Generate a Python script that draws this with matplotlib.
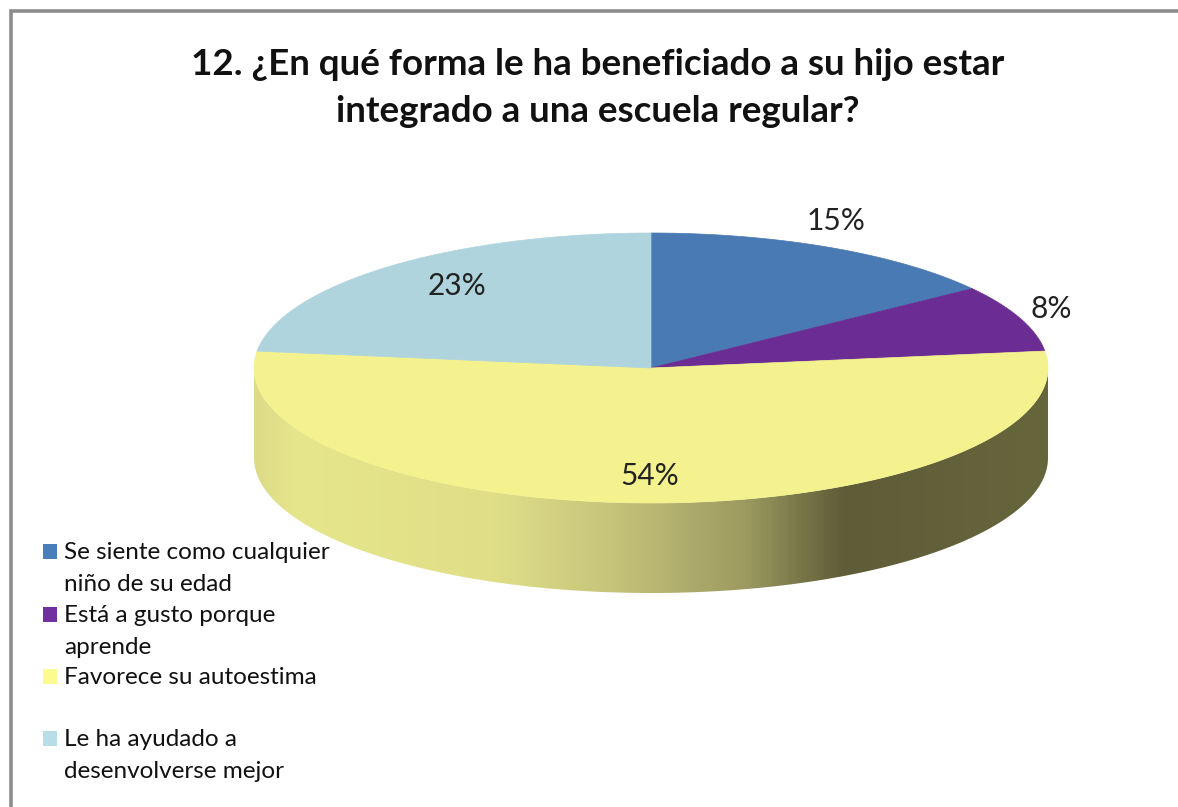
import numpy as np
import matplotlib
matplotlib.use("Agg")
import matplotlib.pyplot as plt
from matplotlib.colors import LinearSegmentedColormap
from matplotlib.patches import Polygon, Rectangle

title = "12. ¿En qué forma le ha beneficiado a su hijo estar\nintegrado a una escuela regular?"
categories = ["Se siente como cualquier\nniño de su edad", "Está a gusto porque\naprende",
              "Favorece su autoestima", "Le ha ayudado a\ndesenvolverse mejor"]
values = [15, 8, 54, 23]
value_labels = ["15%", "8%", "54%", "23%"]

top_colors = ["#4A7AB3", "#6B2C93", "#F3F28E", "#AFD4DD"]
legend_colors = ["#4A7EBB", "#7030A0", "#FBFB8F", "#B7DDE8"]

plt.rcParams["font.family"] = ["Lato", "DejaVu Sans"]

fig = plt.figure(figsize=(11.78, 8.07), dpi=100)
ax = fig.add_axes([0, 0, 1, 1])
ax.set_xlim(0, 1178)
ax.set_ylim(807, 0)
ax.axis("off")

# chart frame, only top and left show up in the crop
ax.plot([11, 11, 1178], [807, 11, 11], color="#8C8C8C", lw=2.6, solid_joinstyle="miter")

cx, cy, rx, ry, depth = 651, 368, 397, 135, 90


def rim(start, stop):
    t = np.radians(np.linspace(start, stop, 200))
    return cx + rx * np.sin(t), cy - ry * np.cos(t)


# side wall with the gradient
x_top, y_top = rim(90, 270)
side = Polygon(np.r_[np.c_[x_top, y_top], np.c_[x_top[::-1], y_top[::-1] + depth]],
               closed=True, fc="none", ec="none")
ax.add_patch(side)
cmap = LinearSegmentedColormap.from_list("side", [
    (0.00, "#DDDB88"), (0.05, "#E6E68C"), (0.30, "#E0DF88"), (0.45, "#C6C47A"),
    (0.62, "#9C9A60"), (0.71, "#6F6C42"), (0.745, "#5F5C38"), (1.00, "#66663C")])
img = ax.imshow(np.linspace(0, 1, 400).reshape(1, -1), cmap=cmap, aspect="auto",
                extent=[cx - rx, cx + rx, 600, 360], zorder=1)
img.set_clip_path(side)
ax.set_xlim(0, 1178)
ax.set_ylim(807, 0)

# top face, wedges go clockwise from 12 o'clock
start = 0
total = sum(values)
for val, col in zip(values, top_colors):
    stop = start + val / total * 360
    xs, ys = rim(start, stop)
    ax.add_patch(Polygon(np.c_[np.r_[cx, xs], np.r_[cy, ys]], closed=True,
                         fc=col, ec=col, lw=0.5, zorder=2))
    start = stop

ax.text(598, 88, title, ha="center", va="center", fontsize=26.5, fontweight="bold",
        color="#111111", linespacing=1.5, zorder=5)

for lab, (lx, ly) in zip(value_labels, [(836, 221), (1051, 309), (650, 476), (457, 286)]):
    ax.text(lx, ly, lab, ha="center", va="center", fontsize=21.5, color="#222222", zorder=5)

legend_y = [552, 615, 677, 739]
for cat, col, ly in zip(categories, legend_colors, legend_y):
    ax.add_patch(Rectangle((43, ly - 8), 14, 15, fc=col, ec="none", zorder=3))
    ax.text(64, ly - 10, cat, ha="left", va="top", fontsize=17.5, color="#111111",
            linespacing=1.62, zorder=5)

fig.savefig("out.png", dpi=100)
